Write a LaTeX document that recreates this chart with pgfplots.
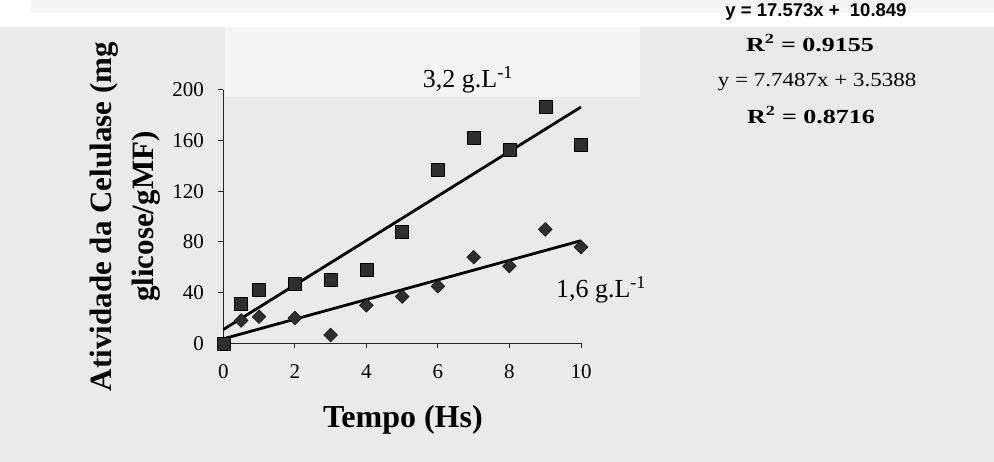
\documentclass[border=0pt]{standalone}
\usepackage{fontspec}
\setmainfont{Liberation Serif}
\newfontfamily\arialfont{Liberation Sans}
\usepackage{graphicx}
\usepackage{pgfplots}
\pgfplotsset{compat=1.18}

\definecolor{pagebg}{HTML}{EAEAEA}
\definecolor{lightbg}{HTML}{F4F4F4}
\definecolor{markfill}{HTML}{2E2E2E}

\begin{document}
\begin{tikzpicture}
% scanned page background
\fill[pagebg] (0pt,0pt) rectangle (994pt,-462pt);
\fill[white] (0pt,0pt) rectangle (994pt,-27pt);
\fill[lightbg] (31pt,0pt) rectangle (994pt,-13pt);
\fill[lightbg] (225pt,-27pt) rectangle (640pt,-97pt);
\useasboundingbox (0pt,0pt) rectangle (994pt,-462pt);

\begin{axis}[
    at={(223.3pt,-343.3pt)}, anchor=south west,
    scale only axis,
    width=357.7pt, height=253.3pt,
    xmin=0, xmax=10,
    ymin=0, ymax=200,
    axis lines=left,
    axis line style={-, line width=1.2pt, black!85},
    xtick={0,2,...,10},
    ytick={0,40,...,200},
    tick align=outside,
    major tick length=5pt,
    tick style={line width=1pt, black!85},
    /pgf/number format/assume math mode=true,
    tick label style={font=\fontsize{21}{21}\selectfont},
    yticklabel style={xshift=-11pt},
    xticklabel style={yshift=-13pt},
    xlabel={Tempo (Hs)},
    xlabel style={at={(axis description cs:0.502,-0.303)}, anchor=center,
        font=\fontsize{32}{32}\selectfont\bfseries},
    ylabel={Atividade da Celulase (mg\\glicose/gMF)},
    ylabel style={at={(axis description cs:-0.275,0.5)}, anchor=center,
        align=center, font=\fontsize{31}{42}\selectfont\bfseries},
    clip=false,
]

% 3,2 g/L
\addplot[only marks, mark=square*, mark size=6.5pt,
    mark options={fill=markfill, draw=black}] coordinates {
    (0,0) (0.5,31) (1,42) (2,47) (3,50) (4,58) (5,88)
    (6,137) (7,162) (8,153) (9,187) (10,157)
};
% 1,6 g/L
\addplot[only marks, mark=square*, mark size=4.9pt,
    mark options={rotate=45, fill=markfill, draw=black}] coordinates {
    (0.5,18) (1,21) (2,20) (3,6.5) (4,30) (5,37)
    (6,45) (7,68) (8,61) (9,90) (10,76)
};
% linear trend lines
\addplot[black, line width=2.8pt] coordinates {(0,10.849) (10,186.579)};
\addplot[black, line width=2.8pt] coordinates {(0,3.5388) (10,81.0258)};

\node[font=\fontsize{26}{26}\selectfont] at (axis cs:6.84,207.8) {3,2 g.L\textsuperscript{-1}};
\node[font=\fontsize{26}{26}\selectfont] at (axis cs:10.56,42) {1,6 g.L\textsuperscript{-1}};

\node[font=\arialfont\bfseries\fontsize{18.5}{18.5}\selectfont] at (axis cs:16.57,261.5) {y = 17.573x +\ \ 10.849};
\node at (axis cs:16.40,237.0) {\scalebox{1.3}[1]{\fontsize{20}{20}\selectfont\bfseries R\textsuperscript{2} = 0.9155}};
\node at (axis cs:16.60,206.2) {\scalebox{1.15}[1]{\fontsize{20}{20}\selectfont y = 7.7487x + 3.5388}};
\node at (axis cs:16.43,180.2) {\scalebox{1.3}[1]{\fontsize{20}{20}\selectfont\bfseries R\textsuperscript{2} = 0.8716}};
\end{axis}
\end{tikzpicture}
\end{document}
